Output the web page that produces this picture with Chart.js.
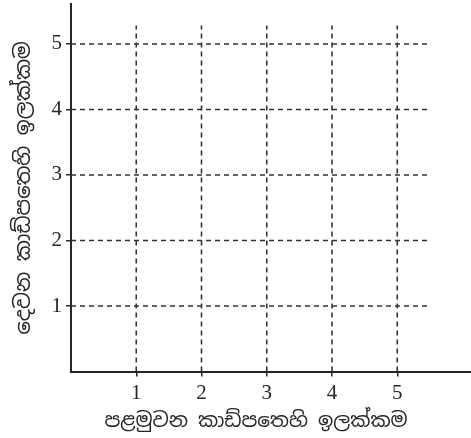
<!DOCTYPE html>
<html lang="si">
<head>
<meta charset="utf-8">
<script src="https://cdn.jsdelivr.net/npm/chart.js@4.4.0/dist/chart.umd.min.js"></script>
<style>
  html, body { margin: 0; padding: 0; background: #fff; }
  #wrap { width: 471px; height: 438px; }
</style>
</head>
<body>
<div id="wrap"><canvas id="myChart"></canvas></div>
<script>
// data
var xTicks = [1, 2, 3, 4, 5];
var yTicks = [1, 2, 3, 4, 5];
var xTitle = "පළමුවන කාඩ්පතෙහි ඉලක්කම";
var yTitle = "දෙවන කාඩ්පතෙහි ඉලක්කම";

// how far the dashed guide lines run
var vTop = 5.28;
var hRight = 5.47;

var ink = "#262626";
var sinhala = "'Noto Sans Sinhala', 'Noto Serif Sinhala', 'Iskoola Pota', 'DejaVu Sans', sans-serif";
var digits = "'Liberation Serif', 'DejaVu Serif', serif";

var guides = [];
xTicks.forEach(function (v) {
  guides.push({ data: [{ x: v, y: 0 }, { x: v, y: vTop }] });
});
yTicks.forEach(function (v) {
  guides.push({ data: [{ x: 0, y: v }, { x: hRight, y: v }] });
});
guides.forEach(function (d) {
  d.type = "line";
  d.showLine = true;
  d.borderColor = "#333";
  d.borderWidth = 1.6;
  d.borderDash = [5, 4];
  d.pointRadius = 0;
  d.fill = false;
});

function fixTicks(list) {
  return function (scale) {
    scale.ticks = list.map(function (v) { return { value: v }; });
  };
}

var ctx = document.getElementById("myChart").getContext("2d");
var chart = new Chart(ctx, {
  type: "scatter",
  data: { datasets: guides },
  options: {
    responsive: true,
    maintainAspectRatio: false,
    animation: false,
    layout: { padding: { top: 4, right: 0, left: 0, bottom: 0 } },
    plugins: { legend: { display: false }, tooltip: { enabled: false } },
    scales: {
      x: {
        type: "linear",
        min: 0,
        max: 6.13,
        afterBuildTicks: fixTicks(xTicks),
        afterFit: function (s) { s.height = 66.5; s.paddingLeft = 0; s.paddingRight = 0; },
        grid: { display: true, drawOnChartArea: false, drawTicks: true, tickLength: 5, color: ink, lineWidth: 1.5 },
        border: { display: true, color: ink, width: 2 },
        ticks: { color: ink, padding: 4, maxRotation: 0, font: { family: digits, size: 21 } },
        title: {
          display: true,
          // trailing spaces nudge the centred title left, as in the original
          text: xTitle + "\u00a0\u00a0\u00a0",
          color: ink,
          padding: { top: 0, bottom: 5 },
          font: { family: sinhala, size: 20 }
        }
      },
      y: {
        type: "linear",
        min: 0,
        max: 5.61,
        afterBuildTicks: fixTicks(yTicks),
        afterFit: function (s) { s.width = 71; s.paddingTop = 0; s.paddingBottom = 0; },
        grid: { display: true, drawOnChartArea: false, drawTicks: true, tickLength: 5, color: ink, lineWidth: 1.5 },
        border: { display: true, color: ink, width: 2 },
        ticks: { color: ink, padding: 4, font: { family: digits, size: 21 } },
        title: {
          display: true,
          text: yTitle,
          color: ink,
          padding: { top: 12, bottom: 0 },
          font: { family: sinhala, size: 21 }
        }
      }
    }
  }
});
</script>
</body>
</html>
